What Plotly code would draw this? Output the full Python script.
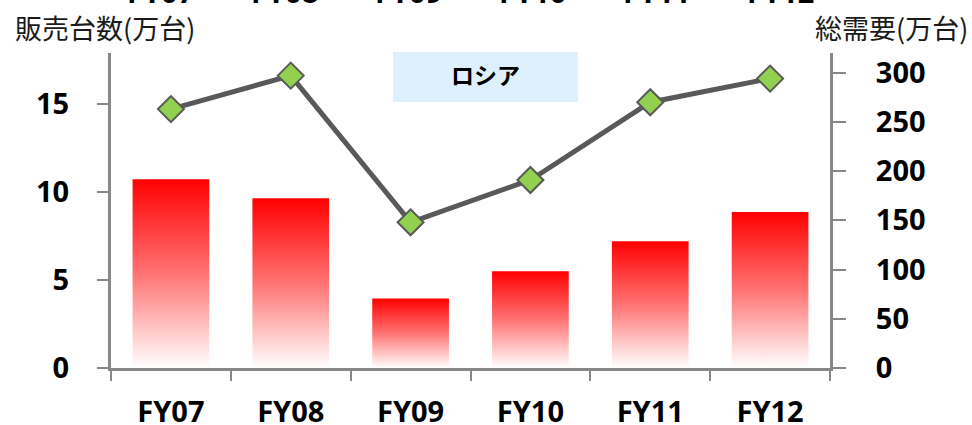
import plotly.graph_objects as go

# Fiscal years and values
categories = ["FY07", "FY08", "FY09", "FY10", "FY11", "FY12"]
sales_units = [10.73, 9.65, 3.95, 5.5, 7.2, 8.86]          # 販売台数(万台), left axis
total_demand = [263, 297, 148, 191, 270, 294]               # 総需要(万台), right axis
left_ticks = [0, 5, 10, 15]
right_ticks = [0, 50, 100, 150, 200, 250, 300]
region_title = "ロシア"

AXIS_GRAY = "#878787"
LINE_GRAY = "#595959"
TICK_FONT = dict(family="Noto Sans", size=29, color="#000000", weight="bold")
BAR_HALF = 0.32

fig = go.Figure()

# Bars drawn as filled polygons so each one can carry a red-to-white gradient
for i, v in enumerate(sales_units):
    fig.add_trace(go.Scatter(
        x=[i - BAR_HALF, i - BAR_HALF, i + BAR_HALF, i + BAR_HALF, i - BAR_HALF],
        y=[0, v, v, 0, 0],
        mode="lines",
        line=dict(width=0, color="rgba(0,0,0,0)"),
        fill="toself",
        fillgradient=dict(
            type="vertical",
            colorscale=[[0, "#ffffff"], [0.5, "#ff7373"], [1, "#ff0000"]],
        ),
        hoverinfo="skip",
        showlegend=False,
        xaxis="x", yaxis="y",
    ))

# Total demand line on the right axis
fig.add_trace(go.Scatter(
    x=list(range(len(categories))),
    y=total_demand,
    mode="lines+markers",
    line=dict(color=LINE_GRAY, width=5),
    marker=dict(symbol="diamond", size=20, color="#92d050",
                line=dict(color=LINE_GRAY, width=2)),
    cliponaxis=False,
    showlegend=False,
    xaxis="x", yaxis="y2",
))

n = len(categories)
fig.update_layout(
    width=972, height=425,
    margin=dict(l=111, r=142, t=53, b=57, autoexpand=False),
    paper_bgcolor="white", plot_bgcolor="white",
    showlegend=False,
    xaxis=dict(
        range=[-0.5, n - 0.5],
        automargin=False,
        tickmode="array",
        tickvals=list(range(n)),
        ticktext=categories,
        ticks="outside", ticklen=10, tickcolor="rgba(0,0,0,0)",
        minor=dict(tickmode="linear", tick0=-0.5, dtick=1, ticks="outside",
                   ticklen=10, tickwidth=2, tickcolor=AXIS_GRAY),
        ticklabelstandoff=6,
        tickfont=TICK_FONT,
        showline=True, linecolor=AXIS_GRAY, linewidth=3,
        showgrid=False, zeroline=False,
    ),
    yaxis=dict(
        range=[0, 17.9],
        automargin=False,
        tickmode="array", tickvals=left_ticks,
        ticks="outside", ticklen=11, tickwidth=2, tickcolor=AXIS_GRAY,
        ticklabelstandoff=22,
        tickfont=TICK_FONT,
        showline=True, linecolor=AXIS_GRAY, linewidth=3,
        showgrid=False, zeroline=False,
    ),
    yaxis2=dict(
        range=[0, 320],
        automargin=False,
        overlaying="y", side="right",
        tickmode="array", tickvals=right_ticks,
        ticks="outside", ticklen=13, tickwidth=2, tickcolor=AXIS_GRAY,
        ticklabelstandoff=24,
        tickfont=TICK_FONT,
        showline=True, linecolor=AXIS_GRAY, linewidth=3,
        showgrid=False, zeroline=False,
    ),
)

# Region label box
fig.add_shape(type="rect", xref="paper", yref="paper",
              x0=(393 - 111) / 719, x1=(578 - 111) / 719,
              y0=1 - (102 - 53) / 315, y1=1 + (53 - 52) / 315,
              fillcolor="#def0fb", line=dict(width=0), layer="below")
fig.add_annotation(text=f"<b>{region_title}</b>", xref="paper", yref="paper",
                   x=(485 - 111) / 719, y=1 - (74 - 53) / 315,
                   xanchor="center", yanchor="middle", showarrow=False,
                   font=dict(family="Noto Sans CJK JP", size=23, color="#000000"))

# Axis unit titles
title_font = dict(family="Noto Sans CJK JP", size=27, color="#1a1a1a")
fig.add_annotation(text="販売台数(万台)", xref="paper", yref="paper",
                   x=(13 - 111) / 719, y=1 + (53 - 27) / 315,
                   xanchor="left", yanchor="middle", showarrow=False, font=title_font)
fig.add_annotation(text="総需要(万台)", xref="paper", yref="paper",
                   x=(970 - 111) / 719, y=1 + (53 - 27) / 315,
                   xanchor="right", yanchor="middle", showarrow=False, font=title_font)

# Category row of the chart above, running off the top edge
for i, c in enumerate(categories):
    fig.add_annotation(text=f"<b>{c}</b>", xref="x", yref="paper",
                       x=2.5 + (i - 2.5) * 1.035, y=1 + (53 + 9) / 315,
                       xanchor="center", yanchor="middle", showarrow=False,
                       font=TICK_FONT)

fig.write_html("out.html")
